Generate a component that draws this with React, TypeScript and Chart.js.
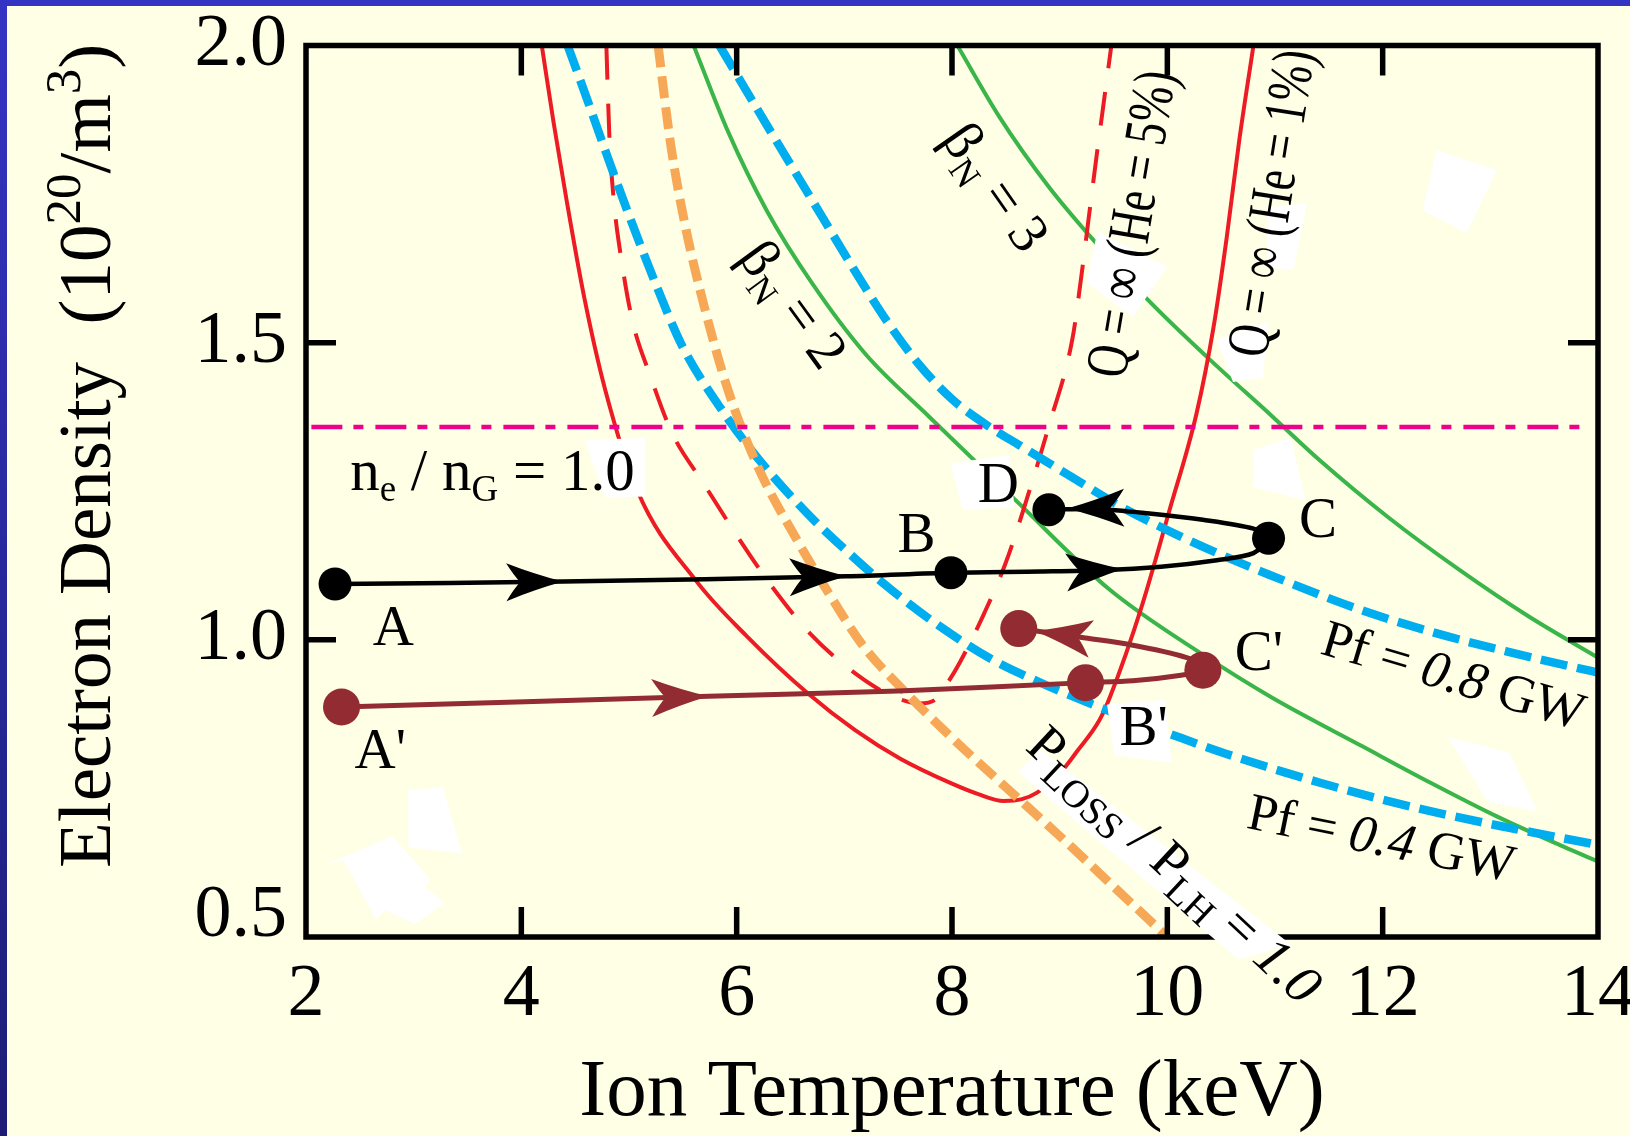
import React, { useEffect, useRef } from 'react';
import { Chart, registerables } from 'chart.js';

Chart.register(...registerables);

const W = 1630;
const H = 1136;
const FAMILY = "'Liberation Serif', 'Times New Roman', Times, serif";

// ---- axes ----
const xMin = 2, xMax = 14, xStep = 2;
const yMin = 0.5, yMax = 2.0, yStep = 0.5;
const xTitle = 'Ion Temperature (keV)';

type P = [number, number];

// ---- curves (Ion temperature keV, electron density 1e20/m3) ----
const qInfHe1: P[] = [[4.19, 2.0], [4.30, 1.87], [4.42, 1.74], [4.58, 1.58], [4.78, 1.42], [5.08, 1.25], [5.62, 1.10], [6.10, 1.005], [6.66, 0.91], [7.10, 0.848], [7.52, 0.800], [8.00, 0.758], [8.25, 0.740], [8.48, 0.729], [8.65, 0.732], [8.79, 0.743], [9.00, 0.775], [9.16, 0.812], [9.37, 0.865], [9.47, 0.905], [9.76, 1.055], [10.02, 1.218], [10.27, 1.38], [10.43, 1.527], [10.55, 1.675], [10.67, 1.843], [10.80, 2.0]];
const qInfHe5: P[] = [[4.79, 2.0], [4.80, 1.94], [4.82, 1.838], [4.86, 1.737], [4.93, 1.639], [5.03, 1.538], [5.20, 1.443], [5.40, 1.348], [5.69, 1.264], [6.00, 1.176], [6.33, 1.089], [6.68, 1.011], [7.12, 0.941], [7.45, 0.905], [7.70, 0.893], [7.85, 0.900], [7.95, 0.925], [8.07, 0.961], [8.30, 1.045], [8.50, 1.13], [8.70, 1.24], [8.90, 1.36], [9.12, 1.508], [9.20, 1.61], [9.27, 1.71], [9.34, 1.81], [9.41, 1.905], [9.48, 2.0]];
const pf04: P[] = [[4.43, 2.0], [4.61, 1.91], [4.79, 1.818], [5.03, 1.700], [5.25, 1.598], [5.49, 1.496], [5.88, 1.382], [6.24, 1.296], [6.66, 1.212], [7.00, 1.153], [7.41, 1.088], [7.90, 1.021], [8.38, 0.966], [8.82, 0.928], [9.24, 0.896], [9.68, 0.865], [10.11, 0.836], [10.55, 0.808], [11.41, 0.760], [12.27, 0.719], [13.14, 0.685], [14.0, 0.655]];
const pf08: P[] = [[5.84, 2.0], [6.30, 1.86], [6.80, 1.71], [7.10, 1.62], [7.40, 1.535], [7.70, 1.462], [8.00, 1.405], [8.30, 1.364], [8.64, 1.326], [9.11, 1.274], [9.59, 1.222], [10.11, 1.175], [10.54, 1.140], [10.94, 1.110], [11.77, 1.052], [12.46, 1.013], [13.14, 0.981], [13.80, 0.953], [14.0, 0.945]];
const pLossPlh1: P[] = [[5.27, 2.0], [5.39, 1.83], [5.53, 1.69], [5.70, 1.56], [5.92, 1.42], [6.20, 1.29], [6.57, 1.165], [6.86, 1.077], [7.17, 0.991], [7.55, 0.915], [8.0, 0.835], [8.5, 0.752], [9.0, 0.67], [9.5, 0.585], [10.0, 0.50]];
const betaN2: P[] = [[5.60, 2.0], [5.92, 1.855], [6.28, 1.722], [6.70, 1.600], [7.20, 1.480], [7.79, 1.375], [8.59, 1.235], [9.46, 1.085], [10.33, 0.975], [10.97, 0.903], [11.82, 0.820], [12.44, 0.760], [13.06, 0.703], [13.68, 0.652], [14.0, 0.627]];
const betaN3: P[] = [[8.05, 2.0], [8.44, 1.880], [8.90, 1.762], [9.37, 1.661], [9.82, 1.572], [10.38, 1.474], [10.98, 1.375], [11.41, 1.303], [12.06, 1.205], [12.71, 1.118], [13.35, 1.040], [14.0, 0.970]];
const greenwaldLimit: P[] = [[2.05, 1.358], [13.91, 1.358]];

// ---- operating trajectories ----
const pathABCD: P[] = [[2.27, 1.094], [4.39, 1.098], [7.02, 1.107], [7.99, 1.113], [8.82, 1.115], [9.37, 1.117], [9.94, 1.123], [10.46, 1.134], [10.80, 1.146], [10.94, 1.171], [10.80, 1.187], [10.33, 1.202], [9.81, 1.213], [9.34, 1.220], [8.90, 1.219]];
const statesABCD: P[] = [[2.27, 1.094], [7.99, 1.113], [10.94, 1.171], [8.90, 1.219]];
const arrowsABCD: P[] = [[4.39, 1.098], [7.02, 1.107], [9.59, 1.119], [9.07, 1.221]];
const pathPrime: P[] = [[2.33, 0.887], [5.74, 0.905], [7.50, 0.914], [9.24, 0.928], [9.68, 0.931], [10.11, 0.940], [10.33, 0.949], [10.20, 0.969], [9.68, 0.991], [9.24, 1.003], [8.62, 1.019]];
const statesPrime: P[] = [[2.33, 0.887], [9.24, 0.928], [10.33, 0.949], [8.62, 1.019]];
const arrowsPrime: P[] = [[5.74, 0.905], [8.77, 1.015]];

// ---- white label backings seen in the figure (data coords) ----
const whitePatches: P[][] = [
  [[4.59, 1.336], [5.15, 1.340], [5.15, 1.241], [4.78, 1.239]],
  [[7.99, 1.297], [8.53, 1.311], [8.58, 1.224], [8.10, 1.218]],
  [[10.80, 1.320], [11.15, 1.340], [11.28, 1.235], [10.80, 1.257]],
  [[9.44, 0.891], [9.98, 0.899], [10.04, 0.793], [9.51, 0.806]],
  [[8.61, 0.778], [8.83, 0.815], [11.15, 0.487], [10.66, 0.462]],
  [[9.35, 1.687], [10.00, 1.628], [9.68, 1.543], [9.25, 1.601]],
  [[10.93, 1.728], [11.30, 1.735], [11.17, 1.622], [10.93, 1.627]],
  [[10.46, 1.505], [10.93, 1.535], [10.89, 1.441], [10.61, 1.434]],
  [[12.37, 1.723], [12.50, 1.824], [13.06, 1.790], [12.78, 1.684]],
  [[12.60, 0.837], [13.18, 0.810], [13.44, 0.711], [12.98, 0.727]],
  [[2.95, 0.747], [3.27, 0.752], [3.45, 0.641], [2.95, 0.651]],
  [[2.18, 0.621], [2.80, 0.670], [3.16, 0.596], [3.10, 0.585], [3.29, 0.557], [3.01, 0.522], [2.74, 0.545], [2.65, 0.530], [2.50, 0.579], [2.35, 0.629]],
];

type Seg = { t: string; s?: number; dy?: number; it?: boolean };
type Label = { segs: Seg[]; at: P; size: number; rot?: number; align?: 'left' | 'center'; mid?: boolean; sx?: number };

const labels: Label[] = [
  { segs: [{ t: 'A' }], at: [2.81, 0.991], size: 57 },
  { segs: [{ t: 'B' }], at: [7.67, 1.148], size: 57 },
  { segs: [{ t: 'C' }], at: [11.40, 1.173], size: 57 },
  { segs: [{ t: 'D' }], at: [8.43, 1.232], size: 57 },
  { segs: [{ t: "A'" }], at: [2.69, 0.784], size: 57 },
  { segs: [{ t: "B'" }], at: [9.78, 0.823], size: 57 },
  { segs: [{ t: "C'" }], at: [10.85, 0.949], size: 57 },
  { segs: [{ t: 'n' }, { t: 'e', s: 0.62, dy: 0.18 }, { t: ' / n' }, { t: 'G', s: 0.62, dy: 0.18 }, { t: ' = 1.0' }], at: [2.41, 1.252], size: 59, align: 'left' },
  { segs: [{ t: 'β' }, { t: 'N', s: 0.65, dy: 0.2 }, { t: ' = 2' }], at: [6.53, 1.565], size: 56, rot: 54, mid: true },
  { segs: [{ t: 'β' }, { t: 'N', s: 0.65, dy: 0.2 }, { t: ' = 3' }], at: [8.41, 1.762], size: 56, rot: 55, mid: true },
  { segs: [{ t: 'Q = ∞ (He = 5%)' }], at: [9.66, 1.700], size: 60, rot: -80.5, mid: true, sx: 0.74 },
  { segs: [{ t: 'Q = ∞ (He = 1%)' }], at: [10.96, 1.735], size: 60, rot: -81, mid: true, sx: 0.74 },
  { segs: [{ t: 'Pf = ' }, { t: '0.8', it: true }, { t: ' GW' }], at: [12.66, 0.941], size: 53, rot: 16.5, mid: true },
  { segs: [{ t: 'Pf = ' }, { t: '0.4', it: true }, { t: ' GW' }], at: [11.99, 0.667], size: 53, rot: 11.5, mid: true },
  { segs: [{ t: 'P' }, { t: 'LOSS', s: 0.7, dy: 0.2 }, { t: ' / P' }, { t: 'LH', s: 0.7, dy: 0.2 }, { t: ' = ' }, { t: '1.0', it: true }], at: [10.07, 0.622], size: 55, rot: 43, mid: true },
];

const toXY = (a: P[]) => a.map(([x, y]) => ({ x, y }));

const fontOf = (sg: Seg, size: number) => `${sg.it ? 'italic ' : ''}${Math.round(size * (sg.s || 1))}px ${FAMILY}`;

function drawRich(ctx: CanvasRenderingContext2D, segs: Seg[], size: number, align: 'left' | 'center', y0 = 0) {
  ctx.textAlign = 'left';
  ctx.textBaseline = 'alphabetic';
  const widths = segs.map((sg) => { ctx.font = fontOf(sg, size); return ctx.measureText(sg.t).width; });
  const total = widths.reduce((a, b) => a + b, 0);
  let x = align === 'center' ? -total / 2 : 0;
  segs.forEach((sg, i) => {
    ctx.font = fontOf(sg, size);
    ctx.fillText(sg.t, x, y0 + (sg.dy || 0) * size);
    x += widths[i];
  });
}

function drawArrows(ctx: CanvasRenderingContext2D, chart: any, path: P[], tips: P[], color: string) {
  const xs = chart.scales.x, ys = chart.scales.y;
  const px = path.map(([x, y]) => [xs.getPixelForValue(x), ys.getPixelForValue(y)]);
  tips.forEach(([x, y]) => {
    const tx = xs.getPixelForValue(x), ty = ys.getPixelForValue(y);
    let best = Infinity; let dir = [1, 0];
    for (let i = 0; i < px.length - 1; i++) {
      const [ax, ay] = px[i]; const [bx, by] = px[i + 1];
      const dx = bx - ax, dy = by - ay; const L2 = dx * dx + dy * dy;
      if (!L2) continue;
      let t = ((tx - ax) * dx + (ty - ay) * dy) / L2; t = Math.max(0, Math.min(1, t));
      const qx = ax + t * dx - tx, qy = ay + t * dy - ty; const d = qx * qx + qy * qy;
      if (d < best) { best = d; const l = Math.sqrt(L2); dir = [dx / l, dy / l]; }
    }
    const L = 57, Wd = 19;
    ctx.save();
    ctx.translate(tx, ty);
    ctx.rotate(Math.atan2(dir[1], dir[0]));
    ctx.fillStyle = color;
    ctx.beginPath();
    ctx.moveTo(0, 0);
    ctx.quadraticCurveTo(-L * 0.5, -Wd * 0.4, -L, -Wd);
    ctx.quadraticCurveTo(-L + 8, -6, -L + 14, 0);
    ctx.quadraticCurveTo(-L + 8, 6, -L, Wd);
    ctx.quadraticCurveTo(-L * 0.5, Wd * 0.4, 0, 0);
    ctx.closePath();
    ctx.fill();
    ctx.restore();
  });
}

const backgroundPlugin = {
  id: 'slideBackground',
  beforeDraw(chart: any) {
    const ctx = chart.ctx as CanvasRenderingContext2D;
    ctx.save();
    ctx.fillStyle = '#FFFFE5';
    ctx.fillRect(0, 0, W, H);
    const g = ctx.createLinearGradient(0, 0, 0, H);
    g.addColorStop(0, '#3434C4');
    g.addColorStop(1, '#1C1C76');
    ctx.fillStyle = g;
    ctx.fillRect(0, 0, 7, H);
    ctx.fillStyle = '#3434C4';
    ctx.fillRect(0, 0, W, 6);
    ctx.restore();
  },
};

const overlayPlugin = {
  id: 'overlay',
  afterDatasetsDraw(chart: any) {
    const ctx = chart.ctx as CanvasRenderingContext2D;
    const { left, right, top, bottom } = chart.chartArea;
    const xs = chart.scales.x, ys = chart.scales.y;

    // arrows on trajectories
    drawArrows(ctx, chart, pathABCD, arrowsABCD, '#000000');
    drawArrows(ctx, chart, pathPrime, arrowsPrime, '#932B33');

    // frame and inward ticks
    ctx.save();
    ctx.strokeStyle = '#000';
    ctx.lineWidth = 5.5;
    ctx.strokeRect(left, top, right - left, bottom - top);
    const TL = 30;
    ctx.beginPath();
    xs.ticks.forEach((t: any) => {
      if (t.value <= xMin || t.value >= xMax) return;
      const p = xs.getPixelForValue(t.value);
      ctx.moveTo(p, bottom); ctx.lineTo(p, bottom - TL);
      ctx.moveTo(p, top); ctx.lineTo(p, top + TL);
    });
    ys.ticks.forEach((t: any) => {
      if (t.value <= yMin || t.value >= yMax) return;
      const p = ys.getPixelForValue(t.value);
      ctx.moveTo(left, p); ctx.lineTo(left + TL, p);
      ctx.moveTo(right, p); ctx.lineTo(right - TL, p);
    });
    ctx.stroke();
    ctx.restore();

    // white label backings
    ctx.save();
    ctx.fillStyle = '#FFFFFF';
    whitePatches.forEach((poly) => {
      ctx.beginPath();
      poly.forEach(([x, y], i) => {
        const px = xs.getPixelForValue(x), py = ys.getPixelForValue(y);
        if (i === 0) ctx.moveTo(px, py); else ctx.lineTo(px, py);
      });
      ctx.closePath();
      ctx.fill();
    });
    ctx.restore();

    // annotation labels
    labels.forEach((lb) => {
      ctx.save();
      ctx.fillStyle = '#000';
      ctx.translate(xs.getPixelForValue(lb.at[0]), ys.getPixelForValue(lb.at[1]));
      if (lb.rot) ctx.rotate((lb.rot * Math.PI) / 180);
      if (lb.sx) ctx.scale(lb.sx, 1);
      drawRich(ctx, lb.segs, lb.size, lb.align || 'center', lb.mid ? 0.33 * lb.size : 0);
      ctx.restore();
    });

    // y-axis title with superscripts
    ctx.save();
    ctx.fillStyle = '#000';
    ctx.translate(110, 868);
    ctx.rotate(-Math.PI / 2);
    drawRich(ctx, [{ t: 'Electron Density  (10' }, { t: '20', s: 0.68, dy: -0.4 }, { t: '/m' }, { t: '3', s: 0.68, dy: -0.4 }, { t: ')' }], 75, 'left');
    ctx.restore();
  },
};

function lineDs(data: P[], color: string, width: number, dash: number[] = [], smooth = true) {
  return {
    data: toXY(data),
    borderColor: color,
    borderWidth: width,
    borderDash: dash,
    pointRadius: 0,
    pointHoverRadius: 0,
    fill: false,
    tension: smooth ? 0.4 : 0,
    cubicInterpolationMode: smooth ? 'monotone' : 'default',
  };
}

function pathDs(data: P[], color: string, width: number) {
  return {
    data: toXY(data),
    borderColor: color,
    borderWidth: width,
    pointRadius: 0,
    pointHoverRadius: 0,
    fill: false,
    tension: 0.3,
  };
}

function stateDs(data: P[], color: string, r: number) {
  return {
    data: toXY(data),
    showLine: false,
    pointRadius: r,
    pointHoverRadius: r,
    pointBackgroundColor: color,
    pointBorderColor: color,
    pointBorderWidth: 0,
    borderColor: color,
  };
}

export default function App() {
  const ref = useRef<HTMLCanvasElement | null>(null);
  useEffect(() => {
    if (!ref.current) return;
    const chart = new Chart(ref.current, {
      type: 'line',
      data: {
        datasets: [
          stateDs(statesABCD, '#000000', 16.5),
          stateDs(statesPrime, '#932B33', 18.5),
          pathDs(pathABCD, '#000000', 4.5),
          pathDs(pathPrime, '#932B33', 5),
          lineDs(greenwaldLimit, '#EC008C', 4.5, [31, 11, 10, 12], false),
          lineDs(pLossPlh1, '#F7A857', 9, [22, 9]),
          lineDs(pf08, '#00AEEF', 8.5, [27, 10]),
          lineDs(pf04, '#00AEEF', 8.5, [27, 10]),
          lineDs(qInfHe5, '#ED1C24', 4, [34, 24]),
          lineDs(qInfHe1, '#ED1C24', 4),
          lineDs(betaN3, '#39B54A', 4),
          lineDs(betaN2, '#39B54A', 4),
        ] as any,
      },
      options: {
        responsive: false,
        animation: false,
        devicePixelRatio: 1,
        events: [],
        layout: { padding: { left: 0, right: 32, top: 45.5, bottom: 0 } },
        plugins: { legend: { display: false }, tooltip: { enabled: false } },
        scales: {
          x: {
            type: 'linear',
            position: 'bottom',
            min: xMin,
            max: xMax,
            ticks: { stepSize: xStep, color: '#000', font: { family: FAMILY, size: 74 }, padding: 14, maxRotation: 0, autoSkip: false },
            grid: { display: false, drawTicks: false },
            border: { display: false },
            title: { display: true, text: xTitle, color: '#000', font: { family: FAMILY, size: 81, lineHeight: 1 }, padding: { top: 0, bottom: 2 } },
            afterFit: (s: any) => { s.height = 199; s.paddingLeft = 0; s.paddingRight = 0; },
          },
          y: {
            type: 'linear',
            min: yMin,
            max: yMax,
            ticks: {
              stepSize: yStep,
              color: '#000',
              font: { family: FAMILY, size: 74, lineHeight: 0.55 },
              padding: 19,
              autoSkip: false,
              callback: (v: any) => (Math.abs(Number(v) - yMin) < 1e-9 ? [Number(v).toFixed(1), ''] : Number(v).toFixed(1)),
            },
            grid: { display: false, drawTicks: false },
            border: { display: false },
            afterFit: (s: any) => { s.width = 306; s.paddingTop = 0; s.paddingBottom = 0; },
          },
        },
      } as any,
      plugins: [backgroundPlugin, overlayPlugin],
    });
    return () => chart.destroy();
  }, []);

  return (
    <div style={{ position: 'fixed', left: 0, top: 0, width: W, height: H, overflow: 'hidden' }}>
      <canvas ref={ref} width={W} height={H} style={{ display: 'block', width: W, height: H }} />
    </div>
  );
}
